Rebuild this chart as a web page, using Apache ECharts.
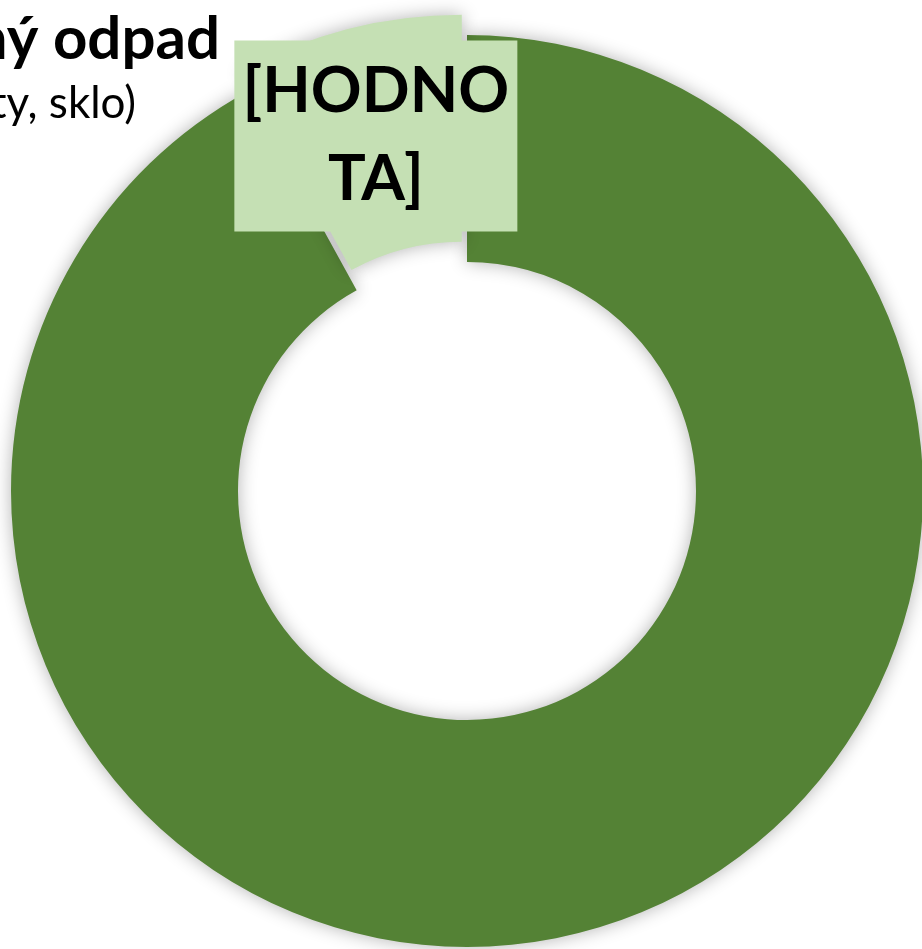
<!DOCTYPE html>
<html>
<head>
<meta charset="utf-8">
<script src="https://cdn.jsdelivr.net/npm/echarts@6/dist/echarts.min.js"></script>
<style>
  html, body { margin: 0; padding: 0; background: #fff; }
  #chart { width: 922px; height: 949px; }
</style>
</head>
<body>
<div id="chart"></div>
<script>
// data
const categories = ['Ostatní', 'Tříděný odpad'];
const values = [92, 8];
const valueLabels = ['', '[HODNO\nTA]'];
const colors = ['#548235', '#C5E0B4'];

var dom = document.getElementById('chart');
var myChart = echarts.init(dom, null, { renderer: 'canvas' });

const pieData = categories.map(function (name, i) {
    const isSmall = i === 1;
    return {
        name: name,
        value: values[i],
        selected: isSmall,
        itemStyle: { color: colors[i] },
        select: { itemStyle: { color: colors[i], borderWidth: 0 } },
        label: {
            show: isSmall,
            formatter: valueLabels[i]
        }
    };
});

const option = {
    animation: false,
    title: [
        {
            text: 'Tříděný odpad',
            left: 220,
            top: 10,
            padding: 0,
            textAlign: 'right',
            textStyle: {
                fontFamily: 'Lato',
                fontWeight: 'bold',
                fontSize: 60,
                color: '#000'
            }
        },
        {
            text: '(papír, plasty, sklo)',
            left: 136,
            top: 82,
            padding: 0,
            textAlign: 'right',
            textStyle: {
                fontFamily: 'Lato',
                fontWeight: 'normal',
                fontSize: 44,
                color: '#000'
            }
        }
    ],
    series: [
        {
            type: 'pie',
            center: [467, 491],
            radius: [229, 456],
            startAngle: 90,
            clockwise: true,
            selectedMode: 'single',
            selectedOffset: 21,
            avoidLabelOverlap: false,
            itemStyle: {
                borderWidth: 0,
                shadowBlur: 18,
                shadowColor: 'rgba(0, 0, 0, 0.3)'
            },
            label: {
                position: 'inside',
                fontFamily: 'Lato',
                fontWeight: 'bold',
                fontSize: 63,
                lineHeight: 88,
                color: '#000',
                backgroundColor: '#C5E0B4',
                width: 259,
                overflow: 'none',
                align: 'center',
                padding: [8, 12, 7, 12]
            },
            labelLine: { show: false },
            emphasis: { disabled: true },
            data: pieData
        }
    ]
};

myChart.setOption(option);
window.addEventListener('resize', myChart.resize);
</script>
</body>
</html>
